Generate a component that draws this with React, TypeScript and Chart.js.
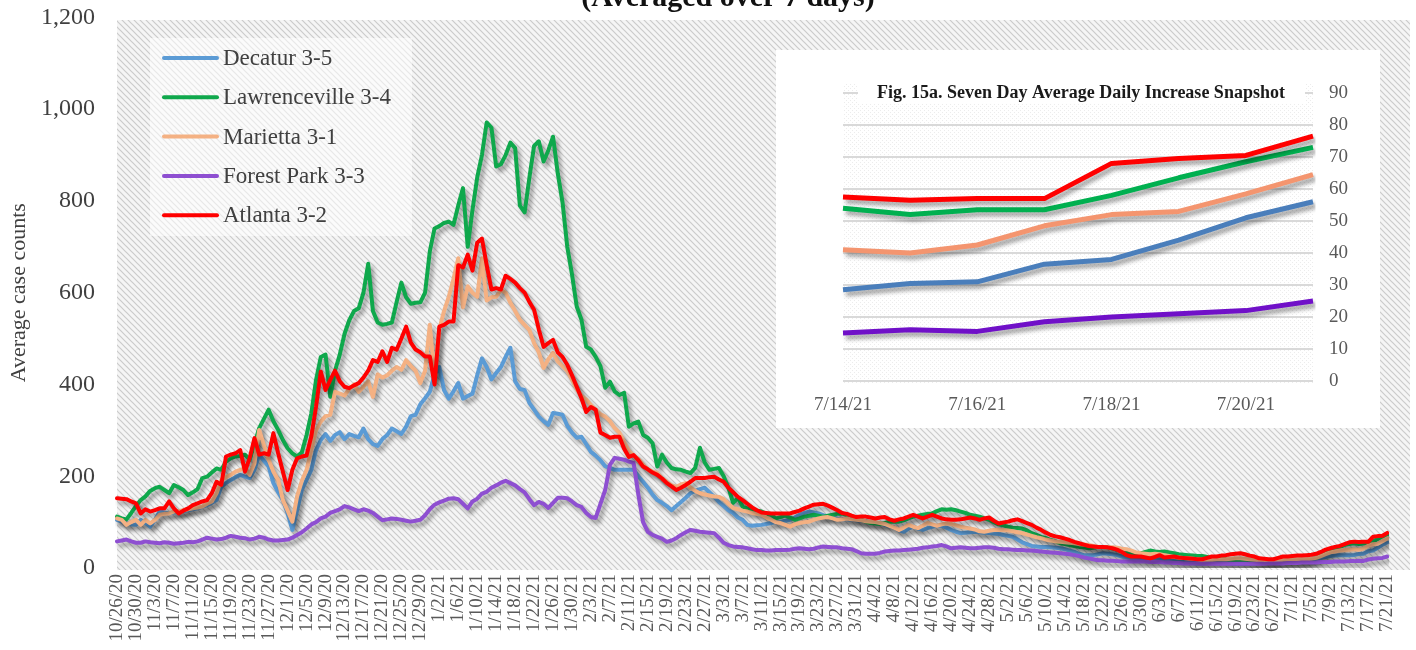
import React, { useEffect, useRef } from 'react';
import { Chart, registerables } from 'chart.js';

Chart.register(...registerables);

const FONT = '"Liberation Serif", "DejaVu Serif", serif';

// Daily categories 10/26/20 .. 7/21/21
const START_Y = 2020, START_M = 9, START_D = 26, N_DAYS = 269;
const dayLabels: string[] = Array.from({ length: N_DAYS }, (_, i) => {
  const d = new Date(START_Y, START_M, START_D + i);
  return `${d.getMonth() + 1}/${d.getDate()}/${String(d.getFullYear()).slice(2)}`;
});

const seriesNames = ['Decatur 3-5', 'Lawrenceville 3-4', 'Marietta 3-1', 'Forest Park 3-3', 'Atlanta 3-2'];
const mainColors = ['#5B9BD5', '#0FA84C', '#F4B183', '#8E4FD1', '#FF0000'];
const insetColors = ['#4A7EBB', '#00B050', '#F4956F', '#7010C8', '#FF0000'];

const decatur = [
  105,101,97,95,94,105,98,90,105,123,
  121,119,121,123,124,126,128,130,133,137,
  142,148,177,185,192,198,203,199,196,214,
  247,234,221,185,165,148,119,83,126,170,
  192,214,257,279,292,277,290,296,281,292,
  288,285,304,281,270,266,281,290,304,298,
  292,308,331,334,357,370,384,422,438,388,
  369,385,403,369,375,380,420,457,438,411,
  425,438,460,480,407,390,388,360,345,330,
  320,312,338,336,334,310,295,284,286,270,
  253,245,235,222,218,214,214,214,214,214,
  200,188,175,160,148,142,135,126,135,144,
  153,163,168,172,175,165,155,144,135,126,
  120,110,105,94,92,93,94,96,98,100,
  101,103,105,110,116,120,123,121,119,115,
  112,110,108,107,106,105,104,103,102,100,
  98,97,94,91,88,82,79,86,90,86,
  83,87,90,92,92,88,83,79,76,77,
  78,79,78,77,76,75,74,72,70,68,
  62,56,52,48,47,46,46,45,44,43,
  41,38,35,31,28,28,28,30,32,31,
  30,28,25,23,22,21,21,20,19,19,
  19,18,17,16,14,13,12,11,10,10,
  11,12,12,12,11,10,9,9,9,10,
  10,11,12,12,12,13,13,14,14,14,
  15,16,18,20,22,24,26,27,28,28,
  28,28.5,30.5,31,36.5,38,44,51,56,
];

const lawrenceville = [
  112,108,106,120,135,148,156,168,174,177,
  170,163,181,176,170,159,165,172,196,199,
  208,217,214,232,239,243,244,247,236,270,
  305,325,345,320,301,279,261,250,243,252,
  290,337,410,460,465,373,430,465,510,540,
  560,566,600,663,560,535,530,532,535,580,
  622,590,576,578,579,600,690,740,745,752,
  755,748,790,828,700,780,851,900,971,960,
  875,880,900,927,915,790,775,850,920,930,
  886,910,940,860,797,700,640,570,541,482,
  476,460,440,393,406,385,377,382,308,315,
  319,290,284,272,221,247,230,218,215,214,
  210,207,218,262,230,214,216,218,200,175,
  142,153,134,130,127,125,123,118,116,108,
  111,114,110,105,108,112,114,116,114,112,
  114,116,118,119,115,112,108,105,101,98,
  97,96,98,101,101,101,104,108,112,114,
  116,118,119,124,128,127,128,126,123,120,
  116,114,112,108,105,100,95,93,90,88,
  87,86,82,76,72,68,65,61,58,54,
  52,50,48,46,45,43,44,46,46,45,
  43,40,37,34,33,32,32,35,38,36,
  35,36,34,32,30,29,28,27,26,26,
  24,22,21,20,19,18,17,16,15,15,
  14,14,14,14,14,14,15,15,15,16,
  16,17,19,22,27,32,37,42,46,50,
  52,54,52,53.5,53.5,58,63.5,68.5,73,
];

const marietta = [
  108,105,94,100,105,94,105,97,105,116,
  118,119,123,124,126,128,130,132,134,140,
  145,163,192,198,203,210,214,217,203,228,
  301,268,236,210,192,148,125,101,156,190,
  214,257,300,319,331,334,384,380,376,390,
  400,384,395,407,373,422,415,420,430,438,
  432,453,440,430,403,430,530,420,520,560,
  591,630,675,568,614,600,591,675,583,590,
  591,606,600,578,560,541,530,519,490,470,
  436,455,469,450,440,430,410,390,375,367,
  355,345,335,330,320,305,295,275,255,245,
  238,225,215,210,207,195,188,180,177,182,
  185,175,168,163,160,158,156,155,150,140,
  131,128,125,123,120,118,116,110,105,100,
  98,94,90,95,98,100,101,105,108,110,
  111,108,105,106,108,106,105,104,102,101,
  100,98,96,92,88,83,88,94,90,87,
  92,98,95,92,95,97,96,93,90,88,
  86,84,80,79,81,83,83,83,82,80,
  78,76,73,70,67,65,62,60,58,57,
  56,55,54,52,51,50,48,46,46,45,
  45,44,42,41,38,34,32,31,30,31,
  30,28,26,24,23,22,21,20,19,18,
  18,18,19,19,19,20,21,21,20,19,
  18,17,16,15,14,16,18,18,19,19,
  19,19,20,22,26,30,34,36,38,39,
  40,41,40,42.5,48.5,52,53,58.5,64.5,
];

const forestPark = [
  58,60,62,58,55,55,58,56,55,54,
  56,55,53,54,55,57,56,58,62,66,
  64,62,63,66,70,68,66,65,62,64,
  68,66,62,60,60,61,62,66,72,78,
  86,95,100,108,112,120,124,128,135,132,
  128,124,128,125,120,112,104,106,108,107,
  105,103,101,103,105,115,128,138,143,147,
  151,152,150,140,130,145,151,162,166,175,
  180,186,190,185,180,172,165,150,137,144,
  140,131,142,153,153,152,145,137,133,120,
  111,109,140,170,225,240,238,236,232,229,
  160,100,79,72,68,64,57,60,65,72,
  78,83,81,79,78,77,76,66,55,50,
  47,46,45,43,41,39,39,38,38,39,
  39,39,40,42,43,42,41,42,45,47,
  46,45,45,43,42,41,37,32,31,31,
  31,33,36,37,38,38,39,40,41,42,
  44,45,47,48,50,47,43,44,45,44,
  43,43,44,45,45,44,42,41,41,40,
  39,39,38,38,37,36,35,34,33,32,
  31,30,28,26,23,21,19,17,17,16,
  16,15,14,14,14,14,14,14,13,13,
  13,12,12,11,11,10,10,10,10,9,
  9,9,9,9,9,9,9,9,9,9,
  9,9,9,10,10,10,10,11,11,11,
  12,12,12,12,13,13,13,14,14,14,
  15,15,16,15.5,18.5,20,21,22,25,
];

const atlanta = [
  152,151,150,145,141,119,128,123,126,130,
  130,145,130,119,125,130,137,141,145,148,
  163,188,181,243,247,250,257,210,240,283,
  247,250,247,294,250,210,170,214,239,243,
  245,287,352,428,388,410,430,407,395,392,
  398,403,415,430,453,449,472,449,480,476,
  500,526,491,476,470,461,461,400,526,530,
  537,537,660,655,683,648,709,718,660,607,
  610,607,637,630,622,610,600,580,563,520,
  482,490,497,470,460,443,420,395,370,340,
  351,345,295,290,284,286,286,260,242,246,
  235,221,215,208,203,195,185,178,170,175,
  181,188,196,196,196,198,199,193,188,175,
  165,155,148,140,132,126,121,120,119,119,
  119,119,119,122,125,130,134,138,139,140,
  136,131,126,120,118,114,111,112,112,110,
  108,110,111,106,103,106,108,112,116,112,
  108,112,116,112,108,106,105,105,106,108,
  110,108,105,108,110,103,97,99,101,104,
  106,102,98,94,88,83,77,72,69,67,
  64,61,57,54,51,48,47,46,46,45,
  43,40,35,28,25,25,25,23,21,24,
  28,23,24,25,23,22,21,20,19,19,
  22,25,25,27,28,30,31,32,30,27,
  25,21,20,19,19,22,25,25,26,27,
  27,28,29,31,35,40,43,46,48,52,
  56,57.5,56.5,57,57,68,69.5,70.5,76.5,
];

// Inset (Fig. 15a) snapshot
const insetDates = ['7/14/21', '7/15/21', '7/16/21', '7/17/21', '7/18/21', '7/19/21', '7/20/21', '7/21/21'];
const insetDecatur = [28.5, 30.5, 31, 36.5, 38, 44, 51, 56];
const insetLawrenceville = [54, 52, 53.5, 53.5, 58, 63.5, 68.5, 73];
const insetMarietta = [41, 40, 42.5, 48.5, 52, 53, 58.5, 64.5];
const insetForestPark = [15, 16, 15.5, 18.5, 20, 21, 22, 25];
const insetAtlanta = [57.5, 56.5, 57, 57, 68, 69.5, 70.5, 76.5];

const mainTitle = '(Averaged over 7 days)';
const insetTitle = 'Fig. 15a. Seven Day Average Daily Increase Snapshot';
const yTitle = 'Average case counts';

function makeHatch(): CanvasPattern | string {
  const c = document.createElement('canvas');
  c.width = 6; c.height = 6;
  const g = c.getContext('2d');
  if (!g) return '#e6e6e6';
  g.fillStyle = '#f5f5f5';
  g.fillRect(0, 0, 6, 6);
  g.strokeStyle = '#cbcbcb';
  g.lineWidth = 1.2;
  g.beginPath();
  g.moveTo(-1, -1); g.lineTo(7, 7);
  g.moveTo(-1, 5); g.lineTo(1, 7);
  g.moveTo(5, -1); g.lineTo(7, 1);
  g.stroke();
  return g.createPattern(c, 'repeat') as CanvasPattern;
}

function makeDots(): CanvasPattern | string {
  const c = document.createElement('canvas');
  c.width = 4; c.height = 4;
  const g = c.getContext('2d');
  if (!g) return '#ffffff';
  g.fillStyle = '#ffffff';
  g.fillRect(0, 0, 4, 4);
  g.fillStyle = '#ececec';
  g.fillRect(0, 0, 1, 1);
  g.fillRect(2, 2, 1, 1);
  return g.createPattern(c, 'repeat') as CanvasPattern;
}

const shadowPlugin = {
  id: 'lineShadow',
  beforeDatasetsDraw(chart: any) {
    const ctx = chart.ctx;
    ctx.save();
    ctx.shadowColor = 'rgba(0,0,0,0.38)';
    ctx.shadowBlur = 4;
    ctx.shadowOffsetX = 3;
    ctx.shadowOffsetY = 4;
  },
  afterDatasetsDraw(chart: any) {
    chart.ctx.restore();
  },
};

export default function App() {
  const mainRef = useRef<HTMLCanvasElement | null>(null);
  const insetRef = useRef<HTMLCanvasElement | null>(null);

  useEffect(() => {
    if (!mainRef.current || !insetRef.current) return;
    const hatch = makeHatch();
    const dots = makeDots();

    const mainSeries = [decatur, lawrenceville, marietta, forestPark, atlanta];
    const insetSeries = [insetDecatur, insetLawrenceville, insetMarietta, insetForestPark, insetAtlanta];

    const bgPlugin = {
      id: 'hatchBg',
      beforeDraw(chart: any) {
        const ctx = chart.ctx;
        ctx.save();
        ctx.fillStyle = '#ffffff';
        ctx.fillRect(0, 0, chart.width, chart.height);
        ctx.fillStyle = hatch;
        ctx.fillRect(117, 20, 1410 - 117, 550);
        ctx.restore();
      },
    };

    const legendPlugin = {
      id: 'innerLegend',
      afterDraw(chart: any) {
        const ctx = chart.ctx;
        ctx.save();
        ctx.fillStyle = 'rgba(255,255,255,0.55)';
        ctx.fillRect(150, 38, 262, 198);
        ctx.font = `23px ${FONT}`;
        ctx.textBaseline = 'middle';
        ctx.textAlign = 'left';
        seriesNames.forEach((name, i) => {
          const y = 58 + i * 39.3;
          ctx.strokeStyle = mainColors[i];
          ctx.lineWidth = 4;
          ctx.lineCap = 'round';
          ctx.beginPath();
          ctx.moveTo(164, y);
          ctx.lineTo(217, y);
          ctx.stroke();
          ctx.fillStyle = '#404040';
          ctx.fillText(name, 223, y + 1);
        });
        ctx.font = `bold 30px ${FONT}`;
        ctx.fillStyle = '#111111';
        ctx.textAlign = 'center';
        ctx.textBaseline = 'alphabetic';
        ctx.fillText(mainTitle, 728, 6);
        ctx.restore();
      },
    };

    const mainChart = new Chart(mainRef.current, {
      type: 'line',
      data: {
        labels: dayLabels,
        datasets: mainSeries.map((d, i) => ({
          label: seriesNames[i],
          data: d,
          borderColor: mainColors[i],
          backgroundColor: mainColors[i],
          borderWidth: 4,
          pointRadius: 0,
          tension: 0,
          fill: false,
          order: 5 - i,
        })),
      },
      options: {
        animation: false,
        responsive: false,
        layout: { padding: { top: 1, right: 18, left: 0, bottom: 0 } },
        plugins: { legend: { display: false }, tooltip: { enabled: false } },
        elements: { line: { borderCapStyle: 'round', borderJoinStyle: 'round' } },
        scales: {
          x: {
            type: 'category',
            offset: false,
            grid: { display: false, drawTicks: false },
            border: { display: false },
            ticks: {
              autoSkip: false,
              maxRotation: 90,
              minRotation: 90,
              padding: 6,
              color: '#595959',
              font: { family: FONT, size: 19 },
              callback: (_v: any, i: number) => (i % 4 === 0 ? dayLabels[i] : ''),
            },
            afterFit: (s: any) => { s.height = 82; },
          },
          y: {
            min: 0,
            max: 1200,
            grid: { display: false, drawTicks: true, tickLength: 19 },
            border: { display: false },
            ticks: {
              stepSize: 200,
              padding: 3,
              color: '#404040',
              font: { family: FONT, size: 24 },
              callback: (v: any) => Number(v).toLocaleString('en-US'),
            },
            title: {
              display: true,
              text: yTitle,
              color: '#404040',
              font: { family: FONT, size: 22 },
              padding: { top: 6, bottom: 0 },
            },
            afterFit: (s: any) => { s.width = 117; },
          },
        },
      },
      plugins: [bgPlugin, shadowPlugin, legendPlugin],
    } as any);

    const insetBg = {
      id: 'insetBg',
      beforeDraw(chart: any) {
        const ctx = chart.ctx;
        ctx.save();
        ctx.fillStyle = '#ffffff';
        ctx.fillRect(0, 0, chart.width, chart.height);
        const a = chart.chartArea;
        ctx.fillStyle = dots;
        ctx.fillRect(a.left, a.top - 10, a.right - a.left, a.bottom - a.top + 12);
        ctx.restore();
      },
      afterDraw(chart: any) {
        const ctx = chart.ctx;
        const a = chart.chartArea;
        ctx.save();
        ctx.fillStyle = '#ffffff';
        ctx.fillRect(82, a.top - 11, 447, 22);
        ctx.font = `bold 18px ${FONT}`;
        ctx.fillStyle = '#1a1a1a';
        ctx.textAlign = 'center';
        ctx.textBaseline = 'middle';
        ctx.fillText(insetTitle, 305, a.top);
        ctx.restore();
      },
    };

    const insetChart = new Chart(insetRef.current, {
      type: 'line',
      data: {
        labels: insetDates,
        datasets: insetSeries.map((d, i) => ({
          label: seriesNames[i],
          data: d,
          borderColor: insetColors[i],
          backgroundColor: insetColors[i],
          borderWidth: 5,
          pointRadius: 0,
          tension: 0,
          fill: false,
          order: 5 - i,
        })),
      },
      options: {
        animation: false,
        responsive: false,
        layout: { padding: { top: 43, left: 67, right: 0, bottom: 0 } },
        plugins: { legend: { display: false }, tooltip: { enabled: false } },
        elements: { line: { borderCapStyle: 'butt', borderJoinStyle: 'round' } },
        scales: {
          x: {
            type: 'category',
            offset: false,
            grid: { display: false, drawTicks: false },
            border: { display: false },
            ticks: {
              autoSkip: false,
              maxRotation: 0,
              minRotation: 0,
              padding: 13,
              color: '#595959',
              font: { family: FONT, size: 19 },
              callback: (_v: any, i: number) => (i % 2 === 0 ? insetDates[i] : ''),
            },
            afterFit: (s: any) => { s.height = 47; },
          },
          y: {
            position: 'right',
            min: 0,
            max: 90,
            grid: { color: '#d9d9d9', lineWidth: 2, drawTicks: false },
            border: { display: false },
            ticks: {
              stepSize: 10,
              padding: 16,
              color: '#595959',
              font: { family: FONT, size: 19 },
            },
            afterFit: (s: any) => { s.width = 67; },
          },
        },
      },
      plugins: [insetBg, shadowPlugin],
    } as any);

    return () => {
      mainChart.destroy();
      insetChart.destroy();
    };
  }, []);

  return (
    <div style={{ position: 'absolute', left: 0, top: 0, width: 1416, height: 650, overflow: 'hidden', background: '#fff' }}>
      <canvas ref={mainRef} width={1416} height={650} style={{ position: 'absolute', left: 0, top: 0, width: 1416, height: 650 }} />
      <canvas ref={insetRef} width={604} height={378} style={{ position: 'absolute', left: 776, top: 50, width: 604, height: 378 }} />
    </div>
  );
}
